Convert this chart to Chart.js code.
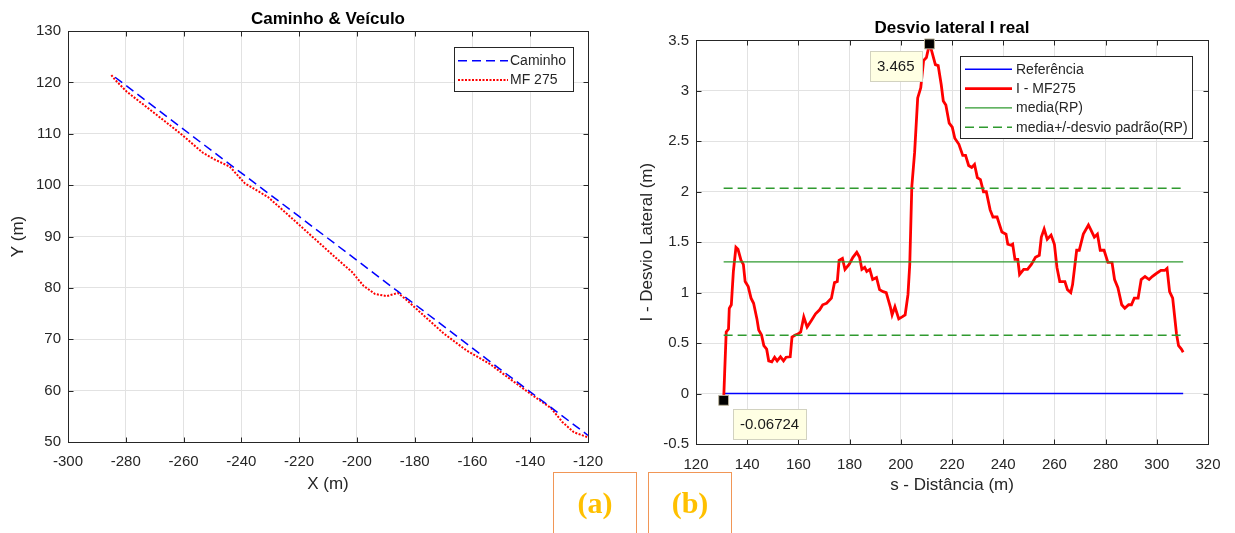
<!DOCTYPE html>
<html lang="pt">
<head>
  <meta charset="UTF-8">
  <title>Caminho &amp; Veículo / Desvio lateral</title>
  <script src="https://cdn.jsdelivr.net/npm/chart.js"></script>
  <style>
    body {
      margin: 0;
      width: 1235px;
      height: 533px;
      position: relative;
      overflow: hidden;
      background: #fff;
      font-family: "Liberation Sans", Arial, sans-serif;
    }
    #left-chart { position: absolute; left: 0; top: 0; }
    #right-chart { position: absolute; left: 620px; top: 0; }
    .tag {
      position: absolute;
      top: 472px;
      width: 84px;
      height: 80px;
      box-sizing: border-box;
      border: 1.5px solid #f19656;
      font-family: "Liberation Serif", "Times New Roman", serif;
      font-weight: bold;
      font-size: 30px;
      line-height: 30px;
      padding-top: 15px;
      color: #ffc000;
      text-align: center;
    }
  </style>
</head>
<body>

  <canvas id="left-chart" width="620" height="510"></canvas>
  <canvas id="right-chart" width="615" height="510"></canvas>

  <div class="tag" style="left:553px">(a)</div>
  <div class="tag" style="left:648px">(b)</div>

<script>
// ---- (a) Caminho & Veículo ----
const pathX = [-283.7, -250, -220, -185.8, -150, -120];
const pathY = [121.0, 106.6, 93.9, 79.3, 64.0, 51.3];

const vehX = [-285, -283.7, -279.7, -270.5, -261.2, -253.3, -249.3, -244, -238.7, -230.8,
              -222.8, -214.9, -207, -201.7, -197.7, -193.7, -189.7, -185.8, -183.1, -177.8,
              -169.9, -162, -154, -146.1, -139.5, -132.8, -128.9, -124.9, -120];
const vehY = [121.4, 120.5, 118.2, 114.2, 110.1, 106.3, 105.0, 103.6, 100.3, 97.7,
              93.7, 89.7, 85.7, 83.1, 80.4, 78.8, 78.4, 79.0, 77.8, 75.1,
              71.1, 67.8, 65.2, 61.9, 59.2, 56.6, 53.9, 51.9, 50.9];

const leftXTicks = [-300, -280, -260, -240, -220, -200, -180, -160, -140, -120];
const leftYTicks = [50, 60, 70, 80, 90, 100, 110, 120, 130];

// ---- (b) Desvio lateral ----
const sDist = [130.8, 131.2, 131.8, 132.7, 133.0, 133.8, 134.6, 135.6, 136.4, 137.6,
  138.5, 139.2, 140.4, 141.5, 142.5, 143.8, 144.5, 145.6, 146.5, 147.6,
  148.4, 149.6, 150.7, 151.7, 153.0, 154.2, 155.2, 156.8, 157.5, 158.8,
  159.8, 160.9, 162.1, 163.4, 165.2, 166.7, 168.3, 169.5, 171.0, 172.9,
  174.1, 175.2, 175.9, 177.2, 178.2, 179.8, 181.3, 182.8, 183.9, 184.8,
  185.9, 186.7, 187.9, 189.0, 190.5, 191.7, 193.1, 194.3, 195.9, 196.6,
  197.7, 199.2, 200.5, 201.7, 202.8, 203.5, 204.3, 205.4, 206.6, 207.8,
  208.9, 210.0, 211.2, 212.0, 213.5, 214.6, 215.8, 216.6, 217.6, 218.9,
  220.1, 221.1, 222.7, 224.2, 225.3, 226.5, 227.7, 228.8, 229.9, 231.1,
  232.3, 233.4, 234.9, 236.0, 237.6, 239.5, 241.1, 241.8, 243.1, 243.7,
  244.6, 245.7, 246.4, 248.0, 249.5, 251.0, 252.6, 254.1, 254.9, 256.0,
  257.2, 258.7, 260.0, 261.0, 262.1, 264.1, 265.1, 266.4, 267.1, 268.7,
  269.7, 271.3, 273.3, 274.3, 275.6, 276.8, 277.9, 279.4, 280.9, 282.5,
  283.5, 284.8, 286.3, 287.5, 289.0, 290.1, 291.2, 292.7, 293.9, 295.4,
  297.0, 298.2, 299.3, 300.4, 301.6, 303.1, 304.0, 305.0, 306.2, 307.7,
  308.5, 309.6, 310.3];
const latDev = [-0.06724, 0.21, 0.61, 0.64, 0.845, 0.88, 1.21, 1.45, 1.43, 1.32,
  1.28, 1.11, 1.06, 0.945, 0.895, 0.74, 0.63, 0.58, 0.475, 0.44,
  0.324, 0.314, 0.36, 0.324, 0.364, 0.324, 0.36, 0.364, 0.56, 0.58,
  0.59, 0.61, 0.76, 0.66, 0.73, 0.79, 0.83, 0.88, 0.895, 0.945,
  1.10, 1.11, 1.32, 1.34, 1.23, 1.28, 1.35, 1.40, 1.35, 1.23,
  1.25, 1.21, 1.23, 1.13, 1.15, 1.03, 1.01, 1.00, 0.86, 0.78,
  0.86, 0.74, 0.76, 0.78, 0.98, 1.28, 2.05, 2.39, 2.93, 3.03,
  3.30, 3.33, 3.465, 3.40, 3.26, 3.25, 3.06, 2.90, 2.86, 2.68,
  2.64, 2.53, 2.47, 2.36, 2.36, 2.26, 2.24, 2.27, 2.14, 2.12,
  2.00, 2.00, 1.82, 1.75, 1.75, 1.60, 1.58, 1.48, 1.47, 1.48,
  1.33, 1.33, 1.18, 1.23, 1.23, 1.28, 1.35, 1.37, 1.55, 1.63,
  1.53, 1.57, 1.48, 1.25, 1.11, 1.11, 1.03, 1.00, 1.08, 1.42,
  1.42, 1.58, 1.67, 1.62, 1.55, 1.58, 1.42, 1.42, 1.30, 1.30,
  1.13, 1.05, 0.88, 0.845, 0.88, 0.88, 0.945, 0.945, 1.13, 1.16,
  1.13, 1.16, 1.18, 1.20, 1.22, 1.22, 1.24, 1.01, 0.945, 0.59,
  0.475, 0.44, 0.41];

const lineS = [130.8, 310.3];
const refLevel = [0, 0];
const meanLevel = [1.305, 1.305];
const upperLevel = [2.035, 2.035];
const lowerLevel = [0.578, 0.578];

const markerS = [130.8, 211.2];
const markerY = [-0.06724, 3.465];

const rightXTicks = [120, 140, 160, 180, 200, 220, 240, 260, 280, 300, 320];
const rightYTicks = [-0.5, 0, 0.5, 1, 1.5, 2, 2.5, 3, 3.5];

const zip = (xs, ys) => xs.map((x, i) => ({ x, y: ys[i] }));

Chart.defaults.font.family = '"Liberation Sans", Arial, sans-serif';
Chart.defaults.animation = false;

const TEXT = '#262626';
const GRID = '#e2e2e2';

// box round the axes, with small ticks pointing in on all four sides
const framePlugin = {
  id: 'frame',
  beforeDatasetsDraw(chart) {
    const { ctx, chartArea: a, scales } = chart;
    const L = Math.round(a.left) + 0.5, R = Math.round(a.right) + 0.5;
    const T = Math.round(a.top) + 0.5, B = Math.round(a.bottom) + 0.5;
    ctx.save();
    ctx.strokeStyle = TEXT;
    ctx.lineWidth = 1;
    ctx.strokeRect(L, T, R - L, B - T);
    ctx.beginPath();
    scales.x.ticks.forEach(t => {
      const px = Math.round(scales.x.getPixelForValue(t.value)) + 0.5;
      ctx.moveTo(px, B); ctx.lineTo(px, B - 5);
      ctx.moveTo(px, T); ctx.lineTo(px, T + 5);
    });
    scales.y.ticks.forEach(t => {
      const py = Math.round(scales.y.getPixelForValue(t.value)) + 0.5;
      ctx.moveTo(L, py); ctx.lineTo(L + 5, py);
      ctx.moveTo(R, py); ctx.lineTo(R - 5, py);
    });
    ctx.stroke();
    ctx.restore();
  }
};

// MATLAB-like legend box inside the axes
const boxLegend = {
  id: 'boxLegend',
  afterDraw(chart, args, o) {
    if (!o.items) return;
    const ctx = chart.ctx;
    ctx.save();
    ctx.fillStyle = '#fff';
    ctx.fillRect(o.x, o.y, o.w, o.h);
    ctx.strokeStyle = TEXT;
    ctx.lineWidth = 1;
    ctx.strokeRect(o.x + 0.5, o.y + 0.5, o.w, o.h);
    ctx.font = '14px "Liberation Sans", Arial, sans-serif';
    ctx.textBaseline = 'middle';
    o.items.forEach((idx, i) => {
      const ds = chart.data.datasets[idx];
      const y = o.y + o.first + i * o.step;
      ctx.beginPath();
      ctx.setLineDash(ds.borderDash || []);
      ctx.strokeStyle = ds.borderColor;
      ctx.lineWidth = ds.borderWidth;
      ctx.moveTo(o.x + o.lineStart, y);
      ctx.lineTo(o.x + o.lineEnd, y);
      ctx.stroke();
      ctx.setLineDash([]);
      ctx.fillStyle = TEXT;
      ctx.fillText(ds.label, o.x + o.textX, y + 0.5);
    });
    ctx.restore();
  }
};

// data tips next to the marked points
const dataTips = {
  id: 'dataTips',
  afterDraw(chart, args, o) {
    if (!o.tips) return;
    const ctx = chart.ctx;
    const meta = chart.getDatasetMeta(o.dataset);
    const data = chart.data.datasets[o.dataset].data;
    ctx.save();
    ctx.font = '15px "Liberation Sans", Arial, sans-serif';
    ctx.textBaseline = 'middle';
    o.tips.forEach(t => {
      const pt = meta.data[t.index];
      const text = String(data[t.index].y);
      const w = Math.round(ctx.measureText(text).width + 14);
      const h = 30;
      const x = Math.round(t.side === 'left' ? pt.x - t.dx - w : pt.x + t.dx);
      const y = Math.round(pt.y + t.dy);
      ctx.fillStyle = '#ffffe3';
      ctx.fillRect(x, y, w, h);
      ctx.strokeStyle = '#d2d2c0';
      ctx.lineWidth = 1;
      ctx.strokeRect(x + 0.5, y + 0.5, w, h);
      ctx.fillStyle = '#1a1a1a';
      ctx.fillText(text, x + 7, y + h / 2 + 1);
    });
    ctx.restore();
  }
};

function axis(opts) {
  const horizontal = opts.pos === 'bottom';
  return {
    type: 'linear',
    position: opts.pos,
    min: opts.min,
    max: opts.max,
    afterBuildTicks: s => { s.ticks = opts.ticks.map(v => ({ value: v })); },
    afterFit: s => { if (horizontal) s.height = opts.size; else s.width = opts.size; },
    ticks: {
      padding: opts.labelPad,
      color: TEXT,
      font: { size: 15 },
      autoSkip: false,
      maxRotation: 0,
      callback: v => String(v)
    },
    grid: { color: GRID, drawTicks: false, lineWidth: 1 },
    border: { display: false },
    title: {
      display: true,
      text: opts.title,
      color: TEXT,
      font: { size: 17 },
      padding: horizontal ? { top: 0, bottom: opts.titlePad } : { top: opts.titlePad, bottom: 0 }
    }
  };
}

new Chart(document.getElementById('left-chart'), {
  type: 'line',
  data: {
    datasets: [
      {
        label: 'Caminho',
        data: zip(pathX, pathY),
        borderColor: '#0000ff',
        borderWidth: 1.5,
        borderDash: [9, 5],
        pointRadius: 0,
        tension: 0
      },
      {
        label: 'MF 275',
        data: zip(vehX, vehY),
        borderColor: '#ff0000',
        borderWidth: 2,
        borderDash: [2, 1.5],
        pointRadius: 0,
        tension: 0
      }
    ]
  },
  options: {
    responsive: false,
    devicePixelRatio: 1,
    layout: { padding: { left: 0, right: 32, top: 0, bottom: 0 } },
    scales: {
      x: axis({ pos: 'bottom', min: -300, max: -120, ticks: leftXTicks, size: 68, labelPad: 11, title: 'X (m)', titlePad: 15 }),
      y: axis({ pos: 'left', min: 50, max: 130, ticks: leftYTicks, size: 68, labelPad: 7, title: 'Y (m)', titlePad: 8 })
    },
    plugins: {
      legend: { display: false },
      tooltip: { enabled: false },
      title: {
        display: true,
        text: 'Caminho & Veículo',
        fullSize: false,
        color: '#000',
        font: { size: 17, weight: 'bold' },
        padding: { top: 9.5, bottom: 1.1 }
      },
      boxLegend: { x: 454, y: 47, w: 119, h: 44, first: 13.7, step: 19.3, lineStart: 4, lineEnd: 54, textX: 56, items: [0, 1] }
    }
  },
  plugins: [framePlugin, boxLegend]
});

new Chart(document.getElementById('right-chart'), {
  type: 'line',
  data: {
    datasets: [
      {
        label: 'tips',
        data: zip(markerS, markerY),
        showLine: false,
        pointStyle: 'rect',
        pointRadius: 7,
        pointBackgroundColor: '#000',
        pointBorderColor: '#bcb49c',
        pointBorderWidth: 1,
        clip: false
      },
      {
        label: 'media+/-desvio padrão(RP)',
        data: zip(lineS, upperLevel),
        borderColor: '#2f9a2f',
        borderWidth: 1.5,
        borderDash: [9, 5],
        pointRadius: 0
      },
      {
        label: 'media-desvio padrão(RP)',
        data: zip(lineS, lowerLevel),
        borderColor: '#2f9a2f',
        borderWidth: 1.5,
        borderDash: [9, 5],
        pointRadius: 0
      },
      {
        label: 'media(RP)',
        data: zip(lineS, meanLevel),
        borderColor: '#2f9a2f',
        borderWidth: 1.3,
        pointRadius: 0
      },
      {
        label: 'I - MF275',
        data: zip(sDist, latDev),
        borderColor: '#ff0000',
        borderWidth: 2.8,
        pointRadius: 0,
        tension: 0
      },
      {
        label: 'Referência',
        data: zip(lineS, refLevel),
        borderColor: '#0000ff',
        borderWidth: 1.5,
        pointRadius: 0
      }
    ]
  },
  options: {
    responsive: false,
    devicePixelRatio: 1,
    layout: { padding: { left: 0, right: 27, top: 0, bottom: 0 } },
    scales: {
      x: axis({ pos: 'bottom', min: 120, max: 320, ticks: rightXTicks, size: 66, labelPad: 12, title: 's - Distância (m)', titlePad: 14 }),
      y: axis({ pos: 'left', min: -0.5, max: 3.5, ticks: rightYTicks, size: 76, labelPad: 7, title: 'I - Desvio Lateral (m)', titlePad: 17.3 })
    },
    plugins: {
      legend: { display: false },
      tooltip: { enabled: false },
      title: {
        display: true,
        text: 'Desvio lateral I real',
        fullSize: false,
        color: '#000',
        font: { size: 17, weight: 'bold' },
        padding: { top: 18, bottom: 2 }
      },
      boxLegend: { x: 340, y: 56, w: 232, h: 82, first: 13.3, step: 19.3, lineStart: 5, lineEnd: 52, textX: 56, items: [5, 4, 3, 1] },
      dataTips: {
        dataset: 0,
        tips: [
          { index: 0, side: 'right', dx: 9, dy: 9 },
          { index: 1, side: 'left', dx: 7, dy: 7 }
        ]
      }
    }
  },
  plugins: [framePlugin, boxLegend, dataTips]
});
</script>
</body>
</html>
